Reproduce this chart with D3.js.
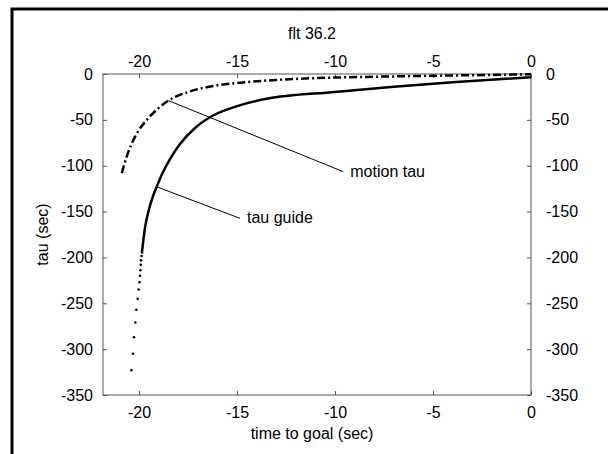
<!DOCTYPE html>
<html>
<head>
<meta charset="utf-8">
<script src="https://cdn.jsdelivr.net/npm/d3@7"></script>
<style>
  body { margin: 0; background: #fff; }
  svg { display: block; font-family: "Liberation Sans", Arial, sans-serif; }
  .axis text { font-size: 16px; fill: #000; }
  .axis line { stroke: #555; }
</style>
</head>
<body>
<svg id="chart" width="608" height="454"></svg>
<script>
// tick values
const xTicks = [-20, -15, -10, -5, 0];
const yTicks = [0, -50, -100, -150, -200, -250, -300, -350];

// tau guide: sparse dotted tail, then dense part drawn as a line
const tauGuideDots = [
    [-20.39, -323], [-20.31, -305], [-20.26, -287], [-20.19, -271],
    [-20.14, -257], [-20.07, -245], [-20.02, -235], [-19.98, -227],
    [-19.95, -220], [-19.93, -214], [-19.91, -208], [-19.90, -203],
    [-19.87, -198.5], [-19.85, -194.6]
];
const tauGuide = [
    [-19.85, -194], [-19.7, -168], [-19.5, -148], [-19.3, -134],
    [-19.1, -123], [-18.8, -108], [-18.4, -92], [-17.9, -76],
    [-17.1, -58], [-16.2, -45], [-15, -35], [-13.5, -27],
    [-10, -19.5], [-7, -14], [-4, -9], [0, -3.5]
];

// motion tau
const motionTau = [
    [-20.88, -108], [-20.63, -90], [-20.4, -77], [-20.12, -65],
    [-19.6, -50], [-19.1, -39], [-18.5, -29], [-17.4, -19],
    [-16.2, -13], [-14.85, -9.5], [-13, -6.5], [-11.3, -4.7],
    [-8, -3], [-5.3, -2], [-2, -1], [0, -0.3]
];

// labels with leader lines: [from point, to point, text]
const labels = [
    { from: [-18.5, -29], to: [-9.58, -106.5], text: 'motion tau' },
    { from: [-19.1, -123], to: [-14.85, -157.4], text: 'tau guide' }
];

const svg = d3.select('#chart');
const margin = { left: 103, right: 531, top: 74, bottom: 395 };

const x = d3.scaleLinear().domain([-21.84, 0]).range([margin.left, margin.right]);
const y = d3.scaleLinear().domain([-350, 0]).range([margin.bottom, margin.top]);

// outer page frame (only top and left edges show)
svg.append('rect')
    .attr('x', 12).attr('y', 9)
    .attr('width', 640).attr('height', 480)
    .attr('fill', 'none')
    .attr('stroke', '#000')
    .attr('stroke-width', 3);

// plain hyphen for negatives, like the original
const fmt = (d) => String(d);

// axes, ticks pointing inward
const axes = [
    [d3.axisBottom(x).tickValues(xTicks).tickPadding(12), `translate(0,${margin.bottom})`],
    [d3.axisTop(x).tickValues(xTicks).tickPadding(7), `translate(0,${margin.top})`],
    [d3.axisLeft(y).tickValues(yTicks).tickPadding(10), `translate(${margin.left},0)`],
    [d3.axisRight(y).tickValues(yTicks).tickPadding(15), `translate(${margin.right},0)`]
];
axes.forEach(([axis, tr]) => {
    svg.append('g')
        .attr('class', 'axis')
        .attr('transform', tr)
        .call(axis.tickSizeInner(-4).tickSizeOuter(0).tickFormat(fmt))
        .call((g) => g.select('.domain').remove());
});

svg.append('rect')
    .attr('x', margin.left).attr('y', margin.top)
    .attr('width', margin.right - margin.left)
    .attr('height', margin.bottom - margin.top)
    .attr('fill', 'none')
    .attr('stroke', '#555')
    .attr('stroke-width', 1);

// titles
svg.append('text')
    .attr('x', 312).attr('y', 39)
    .attr('text-anchor', 'middle')
    .style('font-size', '16px')
    .text('flt 36.2');

svg.append('text')
    .attr('x', 312).attr('y', 439)
    .attr('text-anchor', 'middle')
    .style('font-size', '16px')
    .text('time to goal (sec)');

svg.append('text')
    .attr('transform', `translate(48,${(margin.top + margin.bottom) / 2}) rotate(-90)`)
    .attr('text-anchor', 'middle')
    .style('font-size', '16px')
    .text('tau (sec)');

// series
const line = d3.line()
    .x((d) => x(d[0]))
    .y((d) => y(d[1]))
    .curve(d3.curveMonotoneX);

svg.append('path')
    .datum(motionTau)
    .attr('d', line)
    .attr('fill', 'none')
    .attr('stroke', '#000')
    .attr('stroke-width', 2.5)
    .attr('stroke-dasharray', '8,3,2,3');

svg.append('path')
    .datum(tauGuide)
    .attr('d', line)
    .attr('fill', 'none')
    .attr('stroke', '#000')
    .attr('stroke-width', 2.5);

svg.append('g')
    .selectAll('circle')
    .data(tauGuideDots)
    .join('circle')
    .attr('cx', (d) => x(d[0]))
    .attr('cy', (d) => y(d[1]))
    .attr('r', 1.3)
    .attr('fill', '#000');

// leader lines and labels
const lab = svg.append('g').selectAll('g').data(labels).join('g');
lab.append('line')
    .attr('x1', (d) => x(d.from[0])).attr('y1', (d) => y(d.from[1]))
    .attr('x2', (d) => x(d.to[0])).attr('y2', (d) => y(d.to[1]))
    .attr('stroke', '#000')
    .attr('stroke-width', 1);
lab.append('text')
    .attr('x', (d) => x(d.to[0]) + 7)
    .attr('y', (d) => y(d.to[1]) + 5)
    .style('font-size', '16px')
    .text((d) => d.text);
</script>
</body>
</html>
